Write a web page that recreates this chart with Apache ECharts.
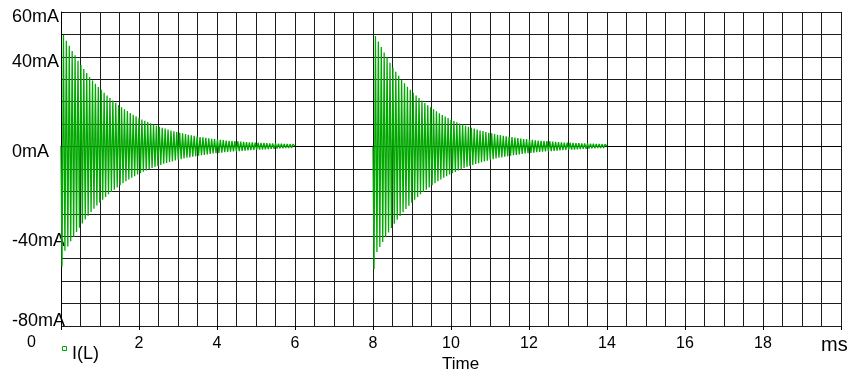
<!DOCTYPE html>
<html>
<head>
<meta charset="utf-8">
<script src="https://cdn.jsdelivr.net/npm/echarts@6/dist/echarts.min.js"></script>
<style>
html,body{margin:0;padding:0;background:#fff;}
#chart{width:850px;height:374px;}
</style>
</head>
<body>
<div id="chart"></div>
<script>
// ---- data ----
const seriesName = 'I(L)';
const burstStartsMs = [0, 8];
const burstLengthMs = 6.0;
const periodMs = 0.0745;          // oscillation period read from peak spacing
const xTickLabels = [2, 4, 6, 8, 10, 12, 14, 16, 18];
const yTickLabels = [60, 40, 0, -40, -80];

// positive / negative peak of each cycle (mA)
const burst1Top = [49.8,47.2,45.0,42.6,40.7,38.3,36.4,34.6,32.8,31.0,29.5,28.0,26.6,25.3,24.0,22.8,21.6,20.5,19.5,18.5,
  17.5,16.6,15.8,15.0,14.2,13.5,12.8,12.1,11.5,10.9,10.4,9.8,9.3,8.8,8.4,8.0,7.6,7.2,6.8,6.5,
  6.2,5.9,5.6,5.3,5.0,4.8,4.5,4.3,4.1,3.9,3.7,3.5,3.3,3.2,3.0,2.9,2.7,2.6,2.5,2.4,
  2.3,2.2,2.1,2.0,1.9,1.85,1.8,1.7,1.65,1.6,1.5,1.45,1.4,1.35,1.3,1.25,1.2,1.15,1.1,1.1];
const burst1Bottom = [-53.5,-46.5,-44.5,-42.2,-40.2,-38.1,-36.2,-34.3,-32.5,-30.8,-29.2,-27.7,-26.3,-25.0,-23.7,-22.5,-21.3,-20.2,-19.2,-18.2,
  -17.2,-16.3,-15.5,-14.7,-13.9,-13.2,-12.5,-11.9,-11.2,-10.7,-10.1,-9.6,-9.1,-8.6,-8.2,-7.7,-7.3,-6.9,-6.6,-6.2,
  -5.9,-5.6,-5.3,-5.0,-4.8,-4.5,-4.3,-4.1,-3.9,-3.7,-3.5,-3.3,-3.1,-3.0,-2.8,-2.7,-2.5,-2.4,-2.3,-2.2,
  -2.1,-2.0,-1.9,-1.8,-1.7,-1.6,-1.5,-1.4,-1.35,-1.3,-1.2,-1.1,-1.0,-0.95,-0.9,-0.8,-0.75,-0.7,-0.65,-0.6];
const burst2Top = [49.3,46.8,44.4,41.9,39.8,37.4,35.3,33.4,31.6,29.8,28.2,26.7,25.3,24.0,22.8,21.6,20.5,19.4,18.4,17.5,
  16.6,15.7,14.9,14.1,13.4,12.7,12.0,11.4,10.8,10.3,9.8,9.3,8.8,8.4,8.0,7.6,7.2,6.9,6.5,6.2,
  5.9,5.6,5.3,5.1,4.8,4.6,4.4,4.2,4.0,3.8,3.6,3.4,3.3,3.1,3.0,2.8,2.7,2.6,2.5,2.4,
  2.3,2.2,2.1,2.0,1.9,1.8,1.75,1.7,1.6,1.55,1.5,1.45,1.4,1.35,1.3,1.25,1.2,1.15,1.1,1.05];
const burst2Bottom = [-54.6,-47.0,-44.8,-42.5,-40.4,-38.3,-36.3,-34.4,-32.6,-30.9,-29.3,-27.8,-26.4,-25.0,-23.7,-22.5,-21.3,-20.2,-19.2,-18.2,
  -17.2,-16.3,-15.5,-14.7,-13.9,-13.2,-12.5,-11.9,-11.3,-10.7,-10.1,-9.6,-9.1,-8.6,-8.2,-7.8,-7.4,-7.0,-6.6,-6.3,
  -5.9,-5.6,-5.3,-5.0,-4.8,-4.5,-4.3,-4.1,-3.9,-3.7,-3.5,-3.3,-3.1,-3.0,-2.8,-2.7,-2.5,-2.4,-2.3,-2.2,
  -2.1,-2.0,-1.9,-1.8,-1.7,-1.6,-1.5,-1.4,-1.35,-1.3,-1.2,-1.1,-1.0,-0.95,-0.9,-0.8,-0.75,-0.7,-0.65,-0.6];

// ---- build line points (time in ms, value in mA) ----
function buildBurst(t0, top, bottom) {
  const pts = [[t0, 0]];
  const n = Math.min(top.length, bottom.length);
  for (let k = 0; k < n; k++) {
    pts.push([t0 + 0.026 + periodMs * k, bottom[k]]);
    pts.push([t0 + 0.063 + periodMs * k, top[k]]);
  }
  pts.push([t0 + burstLengthMs, 0.2]);
  return pts;
}
const lineData = []
  .concat(buildBurst(burstStartsMs[0], burst1Top, burst1Bottom))
  .concat([[7, '-']])
  .concat(buildBurst(burstStartsMs[1], burst2Top, burst2Bottom));

const green = '#00a800';
const gridColor = '#1c1c1c';
const font = 'Arial, "Liberation Sans", sans-serif';

const chart = echarts.init(document.getElementById('chart'), null, {renderer: 'canvas'});
chart.setOption({
  animation: false,
  backgroundColor: '#fff',
  grid: {left: 61, top: 12, right: 9, bottom: 48, containLabel: false},
  xAxis: [
    {
      type: 'value', min: 0, max: 20, interval: 0.5,
      axisLine: {show: true, lineStyle: {color: '#000', width: 1}},
      axisTick: {show: false}, axisLabel: {show: false},
      splitLine: {show: true, lineStyle: {color: gridColor, width: 1}}
    },
    {
      type: 'value', min: 0, max: 20, interval: 2, position: 'bottom', offset: 0,
      axisLine: {show: false},
      axisTick: {show: true, length: 4, lineStyle: {color: '#000', width: 1}},
      axisLabel: {
        show: true, margin: 10, fontFamily: font, fontSize: 16, color: '#000',
        formatter: v => xTickLabels.includes(v) ? String(v) : ''
      },
      splitLine: {show: false}
    }
  ],
  yAxis: {
    type: 'value', min: -80, max: 60, interval: 10,
    axisLine: {show: true, lineStyle: {color: '#000', width: 1}},
    axisTick: {show: false},
    axisLabel: {
      show: true, margin: 49, align: 'left', verticalAlign: 'top', lineHeight: 10,
      verticalAlignMinLabel: 'bottom',
      fontFamily: font, fontSize: 18, color: '#000',
      formatter: v => yTickLabels.includes(v) ? v + 'mA' : ''
    },
    splitLine: {show: true, lineStyle: {color: gridColor, width: 1}}
  },
  graphic: [
    {type: 'text', left: 27, top: 335, style: {text: '0', font: '16px ' + font, fill: '#000'}},
    {type: 'text', x: 821, y: 345, style: {text: 'ms', font: '20px ' + font, fill: '#000', verticalAlign: 'middle'}},
    {type: 'text', x: 442, y: 364, style: {text: 'Time', font: '17px ' + font, fill: '#000', verticalAlign: 'middle'}},
    {type: 'rect', shape: {x: 62.5, y: 346.5, width: 4, height: 4}, style: {fill: '#fff', stroke: green, lineWidth: 1}},
    {type: 'text', x: 72, y: 354, style: {text: seriesName, font: '18px ' + font, fill: '#000', verticalAlign: 'middle'}}
  ],
  series: [{
    name: seriesName,
    type: 'line',
    xAxisIndex: 0,
    data: lineData,
    showSymbol: false,
    symbol: 'none',
    connectNulls: false,
    lineStyle: {color: green, width: 1.3},
    itemStyle: {color: green},
    z: 3
  }]
});
</script>
</body>
</html>
